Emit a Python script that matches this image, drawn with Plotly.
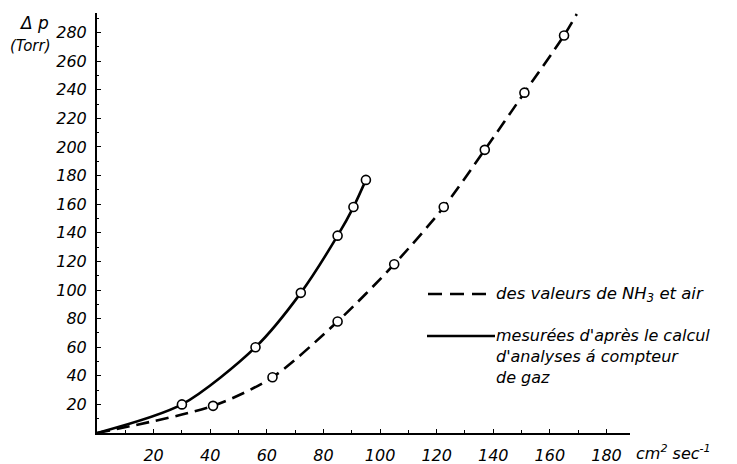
import plotly.graph_objects as go

# Measured points (open circles)
solid_x = [30, 56, 72, 85, 90.6, 95]
solid_y = [20, 60, 98, 138, 158, 177]
dash_x = [41, 62, 85, 105, 122.5, 137, 151, 165]
dash_y = [19, 39, 78, 118, 158, 198, 238, 278]

# Curve paths (including origin and the end of the dashed curve)
solid_curve_x = [0, 30, 56, 72, 85, 90.6, 95]
solid_curve_y = [0, 20, 60, 98, 138, 158, 177]
dash_curve_x = [0, 41, 62, 85, 105, 122.5, 137, 151, 165, 169.5]
dash_curve_y = [0, 19, 39, 78, 118, 158, 198, 238, 278, 293]

x_ticks = [20, 40, 60, 80, 100, 120, 140, 160, 180]
y_ticks = [20, 40, 60, 80, 100, 120, 140, 160, 180, 200, 220, 240, 260, 280]

FONT = "DejaVu Sans"

fig = go.Figure()
fig.add_trace(go.Scatter(x=dash_curve_x, y=dash_curve_y, mode="lines",
                         line=dict(color="black", width=2.6, dash="13px,7px", shape="spline", smoothing=0.8),
                         showlegend=False, hoverinfo="skip"))
fig.add_trace(go.Scatter(x=solid_curve_x, y=solid_curve_y, mode="lines",
                         line=dict(color="black", width=2.6, shape="spline", smoothing=0.8),
                         showlegend=False, hoverinfo="skip"))
fig.add_trace(go.Scatter(x=dash_x, y=dash_y, mode="markers",
                         marker=dict(symbol="circle", size=9, color="white",
                                     line=dict(color="black", width=1.6)),
                         showlegend=False))
fig.add_trace(go.Scatter(x=solid_x, y=solid_y, mode="markers",
                         marker=dict(symbol="circle", size=9, color="white",
                                     line=dict(color="black", width=1.6)),
                         showlegend=False))

tickfont = dict(family=FONT, size=16, color="black", style="italic")

fig.update_xaxes(range=[0, 188.3], showline=True, linecolor="black", linewidth=2,
                 ticks="inside", ticklen=4, tickwidth=1.2, tickcolor="black",
                 tickvals=x_ticks, ticktext=[str(v) for v in x_ticks],
                 minor=dict(ticks="inside", ticklen=3, dtick=10, tick0=0, tickcolor="black"),
                 tickfont=tickfont, showgrid=False, zeroline=False, ticklabelstandoff=7,
                 automargin=False)
fig.update_yaxes(range=[0, 293.7], showline=True, linecolor="black", linewidth=2,
                 ticks="inside", ticklen=4, tickwidth=1.2, tickcolor="black",
                 tickvals=y_ticks, ticktext=[str(v) for v in y_ticks],
                 minor=dict(ticks="inside", ticklen=2, dtick=10, tick0=0, tickcolor="black"),
                 tickfont=tickfont, showgrid=False, zeroline=False, ticklabelstandoff=5,
                 automargin=False)

# Legend samples
fig.add_shape(type="line", xref="paper", yref="paper",
              x0=(428 - 97) / 533, x1=(493 - 97) / 533,
              y0=(433 - 294) / 420, y1=(433 - 294) / 420,
              line=dict(color="black", width=2.6, dash="14px,8px"))
fig.add_shape(type="line", xref="paper", yref="paper",
              x0=(427 - 97) / 533, x1=(495 - 97) / 533,
              y0=(433 - 336) / 420, y1=(433 - 336) / 420,
              line=dict(color="black", width=2.6))

def ann(text, px, py, xanchor="left", yanchor="middle", size=16, align="left"):
    fig.add_annotation(text=text, xref="paper", yref="paper",
                       x=(px - 97) / 533, y=(433 - py) / 420,
                       xanchor=xanchor, yanchor=yanchor, showarrow=False, align=align,
                       font=dict(family=FONT, size=size, color="black", style="italic"))

ann("des valeurs de NH<sub>3</sub> et air", 494, 294, size=16.5)
ann("mesurées d'après le calcul<br>d'analyses á compteur<br>de gaz", 494, 324,
    yanchor="top", size=16)
ann("cm<sup>2</sup> sec<sup>-1</sup>", 634, 452, size=16)
ann("Δ p", 34, 23, xanchor="center", size=17)
ann("(Torr)", 30, 46, xanchor="center", size=15)

# page body adds an 8px offset; figure sized so the plot area lands where the reference has it
fig.update_layout(width=729, height=456,
                  margin=dict(l=89, r=107, t=5, b=31),
                  plot_bgcolor="white", paper_bgcolor="white",
                  showlegend=False)

fig.write_html("out.html")
